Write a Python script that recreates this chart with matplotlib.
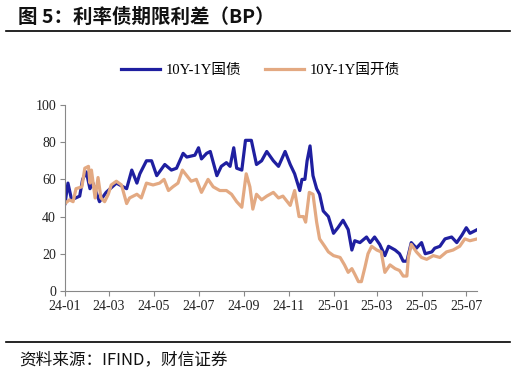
import matplotlib
matplotlib.use("Agg")
import matplotlib.pyplot as plt
from matplotlib.lines import Line2D
import pandas as pd

# 10Y-1Y 国债
gz_dates = ["2024-01-01", "2024-01-05", "2024-01-10", "2024-01-21", "2024-01-25", "2024-01-30",
            "2024-02-04", "2024-02-08", "2024-02-17", "2024-02-26", "2024-03-11", "2024-03-25",
            "2024-04-01", "2024-04-08", "2024-04-12", "2024-04-21", "2024-04-28", "2024-05-05",
            "2024-05-16", "2024-05-25", "2024-06-01", "2024-06-10", "2024-06-15", "2024-06-26",
            "2024-07-01", "2024-07-05", "2024-07-12", "2024-07-17", "2024-07-26", "2024-08-01",
            "2024-08-08", "2024-08-13", "2024-08-18", "2024-08-22", "2024-08-29", "2024-09-03",
            "2024-09-11", "2024-09-18", "2024-09-25", "2024-10-02", "2024-10-11", "2024-10-18",
            "2024-10-27", "2024-11-03", "2024-11-09", "2024-11-16", "2024-11-19", "2024-11-23",
            "2024-11-26", "2024-11-30", "2024-12-04", "2024-12-09", "2024-12-13", "2024-12-18",
            "2024-12-25", "2025-01-01", "2025-01-07", "2025-01-14", "2025-01-21", "2025-01-26",
            "2025-01-30", "2025-02-06", "2025-02-15", "2025-02-20", "2025-02-26", "2025-03-05",
            "2025-03-12", "2025-03-17", "2025-03-26", "2025-04-01", "2025-04-06", "2025-04-11",
            "2025-04-17", "2025-04-24", "2025-05-01", "2025-05-06", "2025-05-15", "2025-05-19",
            "2025-05-26", "2025-06-02", "2025-06-11", "2025-06-18", "2025-06-25", "2025-07-01",
            "2025-07-06", "2025-07-16"]
gz_vals = [47, 58, 49, 51, 60, 64,
           55, 58, 48, 53, 58, 55,
           65, 58, 63, 70, 70, 62,
           68, 65, 66, 74, 72, 73,
           77, 71, 74, 75, 62, 67,
           69, 67, 77, 66, 65, 81,
           81, 68, 70, 75, 70, 67,
           75, 68, 63, 54, 60, 60,
           70, 78, 62, 55, 52, 43,
           40, 31, 34, 38, 33, 22,
           27, 26, 29, 26, 29, 25,
           19, 24, 22, 20, 16, 16,
           26, 23, 26, 20, 21, 23,
           24, 28, 29, 26, 30, 34,
           31, 33]

# 10Y-1Y 国开债
gk_dates = ["2024-01-01", "2024-01-07", "2024-01-12", "2024-01-16", "2024-01-24", "2024-01-28",
            "2024-02-02", "2024-02-04", "2024-02-06", "2024-02-11", "2024-02-15", "2024-02-19",
            "2024-02-24", "2024-02-29", "2024-03-04", "2024-03-11", "2024-03-18", "2024-03-25",
            "2024-03-29", "2024-04-08", "2024-04-14", "2024-04-21", "2024-04-30", "2024-05-09",
            "2024-05-15", "2024-05-21", "2024-05-27", "2024-06-03", "2024-06-09", "2024-06-17",
            "2024-06-21", "2024-06-28", "2024-07-05", "2024-07-14", "2024-07-21", "2024-07-30",
            "2024-08-08", "2024-08-15", "2024-08-22", "2024-08-29", "2024-09-04", "2024-09-09",
            "2024-09-13", "2024-09-18", "2024-09-25", "2024-10-02", "2024-10-11", "2024-10-18",
            "2024-10-24", "2024-11-03", "2024-11-09", "2024-11-15", "2024-11-21", "2024-11-24",
            "2024-11-29", "2024-12-04", "2024-12-09", "2024-12-13", "2024-12-20", "2024-12-25",
            "2025-01-01", "2025-01-10", "2025-01-16", "2025-01-21", "2025-01-26", "2025-01-30",
            "2025-02-04", "2025-02-08", "2025-02-13", "2025-02-17", "2025-02-22", "2025-03-01",
            "2025-03-07", "2025-03-12", "2025-03-19", "2025-03-26", "2025-04-01", "2025-04-06",
            "2025-04-11", "2025-04-13", "2025-04-17", "2025-04-24", "2025-05-01", "2025-05-08",
            "2025-05-17", "2025-05-26", "2025-06-04", "2025-06-13", "2025-06-22", "2025-06-29",
            "2025-07-06", "2025-07-16"]
gk_vals = [47, 49, 48, 55, 56, 66,
           67, 58, 65, 50, 61, 50,
           48, 52, 57, 59, 57, 47,
           50, 52, 50, 58, 57, 58,
           60, 54, 56, 58, 65, 61,
           59, 60, 53, 60, 56, 54,
           54, 52, 48, 45, 63, 56,
           44, 52, 49, 51, 53, 50,
           51, 46, 54, 40, 40, 37,
           53, 52, 37, 28, 24, 21,
           19, 18, 14, 10, 12, 9,
           5, 5, 13, 20, 24, 22,
           21, 10, 14, 12, 11, 8,
           8, 18, 25, 21, 18, 17,
           19, 18, 21, 22, 24, 28,
           27, 28]

tick_labels = ["24-01", "24-03", "24-05", "24-07", "24-09", "24-11",
               "25-01", "25-03", "25-05", "25-07"]
tick_dates = ["2024-01-01", "2024-03-01", "2024-05-01", "2024-07-01", "2024-09-01",
              "2024-11-01", "2025-01-01", "2025-03-01", "2025-05-01", "2025-07-01"]

serif_cjk = ["Liberation Serif", "Noto Sans CJK SC"]

fig = plt.figure(figsize=(5.16, 3.73), dpi=100)
ax = fig.add_axes([0.126, 0.22, 0.799, 0.4985])

ax.plot(pd.to_datetime(gz_dates), gz_vals, color="#1F1FA0", lw=2.3, label="10Y-1Y国债")
ax.plot(pd.to_datetime(gk_dates), gk_vals, color="#E3A982", lw=2.3, label="10Y-1Y国开债")

ax.set_ylim(0, 100)
ax.set_yticks([0, 20, 40, 60, 80, 100])
ax.set_xlim(pd.Timestamp("2024-01-01"), pd.Timestamp("2025-07-16"))
ax.set_xticks(pd.to_datetime(tick_dates))
ax.set_xticklabels(tick_labels)

for s in ["top", "right"]:
    ax.spines[s].set_visible(False)
for s in ["left", "bottom"]:
    ax.spines[s].set_color("#888888")
    ax.spines[s].set_linewidth(0.8)
ax.tick_params(direction="out", length=3.5, width=0.8, color="#888888",
               labelsize=10, labelcolor="#222222", pad=3)
for lab in ax.get_xticklabels() + ax.get_yticklabels():
    lab.set_family("Liberation Serif")

leg = fig.legend(loc="center", bbox_to_anchor=(0.505, 0.812), ncol=2, frameon=False,
                 handlelength=2.7, columnspacing=1.6, handletextpad=0.4,
                 prop={"family": serif_cjk, "size": 10.5})

fig.text(0.035, 0.953, "图 5：利率债期限利差（BP）", fontsize=14, fontweight="bold",
         family=["Noto Sans CJK SC", "DejaVu Sans"], va="center", ha="left", color="#111111")
fig.add_artist(Line2D([0.012, 0.988], [0.917, 0.917], color="black", lw=1.2))
fig.add_artist(Line2D([0.012, 0.988], [0.084, 0.084], color="black", lw=1.2))
fig.text(0.038, 0.035, "资料来源：IFIND，财信证券", fontsize=12, style="italic",
         family=["Noto Sans CJK SC", "DejaVu Sans"], va="center", ha="left", color="#111111")

fig.savefig("out.png", dpi=100)
